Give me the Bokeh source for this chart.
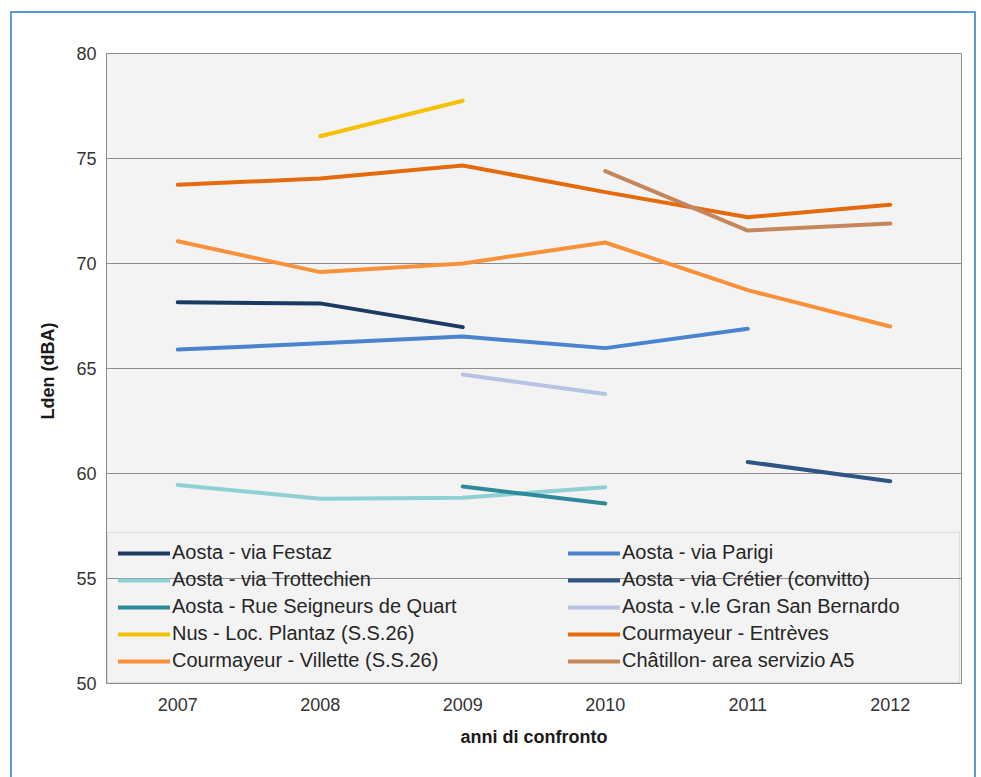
import math
from bokeh.plotting import figure
from bokeh.models import Range1d, FixedTicker, Legend, LegendItem, BoxAnnotation
from bokeh.embed import file_html
from bokeh.resources import INLINE

nan = float("nan")

years = [2007, 2008, 2009, 2010, 2011, 2012]
year_labels = ["2007", "2008", "2009", "2010", "2011", "2012"]

festaz = [68.15, 68.1, 66.97, nan, nan, nan]
parigi = [65.9, 66.2, 66.52, 65.97, 66.89, nan]
trottechien = [59.45, 58.8, 58.85, 59.35, nan, nan]
cretier = [nan, nan, nan, nan, 60.55, 59.63]
seigneurs = [nan, nan, 59.38, 58.57, nan, nan]
gran_sb = [nan, nan, 64.71, 63.79, nan, nan]
nus = [nan, 76.06, 77.75, nan, nan, nan]
entreves = [73.75, 74.05, 74.67, 73.4, 72.2, 72.8]
villette = [71.06, 69.59, 70.0, 71.0, 68.73, 67.0]
chatillon = [nan, nan, nan, 74.4, 71.57, 71.9]

series = [
    ("Aosta - via Festaz", festaz, "#1B3A63"),
    ("Aosta - via Parigi", parigi, "#4A84CF"),
    ("Aosta - via Trottechien", trottechien, "#8FD1D3"),
    ("Aosta - via Crétier (convitto)", cretier, "#2F5585"),
    ("Aosta - Rue Seigneurs de Quart", seigneurs, "#2E8A9A"),
    ("Aosta - v.le Gran San Bernardo", gran_sb, "#B7C3E3"),
    ("Nus - Loc. Plantaz (S.S.26)", nus, "#F5C000"),
    ("Courmayeur - Entrèves", entreves, "#E56A0C"),
    ("Courmayeur - Villette (S.S.26)", villette, "#F7923A"),
    ("Châtillon- area servizio A5", chatillon, "#C4865A"),
]

FONT = "Liberation Sans"

p = figure(
    width=966, height=772,
    x_range=Range1d(2006.5, 2012.5), y_range=Range1d(50, 80),
    output_backend="svg", toolbar_location=None,
    min_border_left=94, min_border_right=17, min_border_top=40, min_border_bottom=102,
    margin=(11, 0, 0, 10),
    styles={"border": "2px solid #5B9BD5"},
    background_fill_color="#F3F3F3", border_fill_color="white",
)
p.outline_line_color = "#8C8C8C"
p.outline_line_width = 1

renderers = {}
for name, vals, col in series:
    r = p.line(years, vals, line_color=col, line_width=4, line_cap="round", line_join="round")
    renderers[name] = r

# axes
p.xaxis.ticker = FixedTicker(ticks=years)
p.xaxis.major_label_overrides = {y: l for y, l in zip(years, year_labels)}
p.yaxis.ticker = FixedTicker(ticks=[50, 55, 60, 65, 70, 75, 80])
for ax in (p.xaxis[0], p.yaxis[0]):
    ax.axis_line_color = "#8C8C8C"
    ax.major_tick_line_color = None
    ax.minor_tick_line_color = None
    ax.major_label_text_font = FONT
    ax.major_label_text_font_size = "18px"
    ax.major_label_text_color = "#333333"
    ax.axis_label_text_font = FONT
    ax.axis_label_text_font_size = "18px"
    ax.axis_label_text_font_style = "bold"
    ax.axis_label_text_color = "#1A1A1A"
p.yaxis.major_tick_in = 3
p.yaxis.major_tick_out = 0
p.yaxis.major_tick_line_color = "#8C8C8C"
p.xaxis.axis_label = "anni di confronto"
p.yaxis.axis_label = "Lden  (dBA)"
p.xaxis.major_label_standoff = 8
p.xaxis.axis_label_standoff = 13
p.yaxis.major_label_standoff = 10
p.yaxis.axis_label_standoff = 15

p.xgrid.grid_line_color = None
p.ygrid.grid_line_color = "#8C8C8C"
p.ygrid.grid_line_width = 1

# legend frame
box = BoxAnnotation(left=2006.507, right=2012.486, bottom=50.05, top=57.19,
                    fill_alpha=0, line_color="#A6A6A6", line_width=1)
p.add_layout(box)

col1 = [series[i][0] for i in (0, 2, 4, 6, 8)]
col2 = [series[i][0] for i in (1, 3, 5, 7, 9)]
items = [LegendItem(label=n, renderers=[renderers[n]]) for n in col1 + col2]
legend = Legend(items=items, location=(12, 11), orientation="vertical", ncols=2, nrows=5,
                padding=0, margin=0, spacing=4, glyph_width=52, glyph_height=20,
                label_height=20, label_width=392, label_standoff=2,
                label_text_font=FONT, label_text_font_size="20px", label_text_color="#262626",
                border_line_alpha=0, background_fill_alpha=0)
p.add_layout(legend)

open("out.html", "w").write(file_html(p, INLINE))
